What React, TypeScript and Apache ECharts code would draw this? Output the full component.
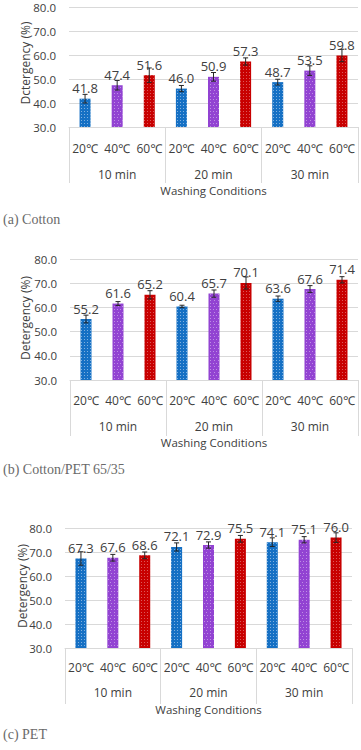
import React, { useEffect, useRef } from "react";
import * as echarts from "echarts";

const temps = ["20℃", "40℃", "60℃", "20℃", "40℃", "60℃", "20℃", "40℃", "60℃"];
const groups = ["10 min", "20 min", "30 min"];

const cottonValues = [41.8, 47.4, 51.6, 46.0, 50.9, 57.3, 48.7, 53.5, 59.8];
const cottonErrors = [1.8, 2.0, 3.0, 1.3, 1.8, 1.5, 1.2, 2.0, 2.6];
const blendValues = [55.2, 61.6, 65.2, 60.4, 65.7, 70.1, 63.6, 67.6, 71.4];
const blendErrors = [1.6, 0.8, 1.7, 0.5, 1.5, 2.5, 1.1, 1.4, 1.3];
const petValues = [67.3, 67.6, 68.6, 72.1, 72.9, 75.5, 74.1, 75.1, 76.0];
const petErrors = [2.8, 1.4, 1.4, 1.7, 1.3, 1.4, 1.8, 1.3, 2.0];

const yMin = 30;
const yMax = 80;
const yInterval = 10;

const captions = ["(a) Cotton", "(b) Cotton/PET 65/35", "(c) PET"];
const yTitles = ["Dctergency (%)", "Detergency (%)", "Detergency (%)"];
const xTitle = "Washing Conditions";

const FONT = "'Open Sans', 'Noto Sans', 'Noto Sans CJK KR', sans-serif";
const barColors = ["#1570c4", "#9243d2", "#c80000"];
const decals = [
  { symbol: "rect", symbolSize: 1, dashArrayX: [1, 2], dashArrayY: [1, 2], color: "rgba(255,255,255,0.45)" },
  { symbol: "rect", symbolSize: 1, dashArrayX: [[1, 2], [0, 1.5, 1, 0.5]], dashArrayY: [1, 1.5], color: "rgba(255,255,255,0.4)" },
  { symbol: "rect", symbolSize: 1, dashArrayX: [1, 1.5], dashArrayY: [1, 1.5], color: "rgba(255,255,255,0.35)" },
];

const layouts = [
  { left: 69, right: 3, top: 7, height: 120, tempMargin: 15, groupMargin: 41, nameGap: 58, yTitleX: 25, yTitleY: 63 },
  { left: 70, right: 3, top: 259, height: 121, tempMargin: 14, groupMargin: 40, nameGap: 57, yTitleX: 25, yTitleY: 318 },
  { left: 65, right: 9, top: 528, height: 120, tempMargin: 13, groupMargin: 38, nameGap: 56, yTitleX: 22, yTitleY: 586 },
];
const captionY = [220, 470, 735];

export default function App() {
  const ref = useRef<HTMLDivElement>(null);
  useEffect(() => {
    if (!ref.current) return;
    const chart = echarts.init(ref.current, null, { renderer: "svg" });
    const datasets = [
      { v: cottonValues, e: cottonErrors },
      { v: blendValues, e: blendErrors },
      { v: petValues, e: petErrors },
    ];
    const grid: any[] = [];
    const xAxis: any[] = [];
    const yAxis: any[] = [];
    const series: any[] = [];
    datasets.forEach((d, i) => {
      const L = layouts[i];
      grid.push({ left: L.left, right: L.right, top: L.top, height: L.height, containLabel: false });
      xAxis.push({
        type: "category",
        gridIndex: i,
        data: temps,
        position: "bottom",
        axisLine: { show: true, lineStyle: { color: "#d9d9d9", width: 1 } },
        axisTick: { show: false },
        axisLabel: { margin: L.tempMargin, fontSize: 12, color: "#404040", fontFamily: FONT, interval: 0 },
      });
      xAxis.push({
        type: "category",
        gridIndex: i,
        data: groups,
        position: "bottom",
        axisLine: { show: false },
        axisTick: { show: true, length: 56, lineStyle: { color: "#d9d9d9", width: 1 } },
        axisLabel: { margin: L.groupMargin, fontSize: 12, color: "#404040", fontFamily: FONT },
        name: xTitle,
        nameLocation: "middle",
        nameGap: L.nameGap,
        nameMoveOverlap: false,
        nameTextStyle: { fontSize: 11.5, color: "#404040", fontFamily: FONT },
      });
      yAxis.push({
        type: "value",
        gridIndex: i,
        min: yMin,
        max: yMax,
        interval: yInterval,
        axisLine: { show: false },
        axisTick: { show: false },
        splitLine: { lineStyle: { color: "#d9d9d9", width: 1 } },
        axisLabel: { fontSize: 11.5, color: "#404040", fontFamily: FONT, margin: 13, formatter: (v: number) => v.toFixed(1) },
      });
      series.push({
        type: "bar",
        xAxisIndex: i * 2,
        yAxisIndex: i,
        barWidth: 11,
        data: d.v.map((v, k) => ({
          value: v,
          itemStyle: { color: barColors[k % 3], decal: decals[k % 3] },
        })),
        label: {
          show: true,
          position: "top",
          distance: 4,
          fontSize: 13,
          color: "#404040",
          fontFamily: FONT,
          formatter: (p: any) => Number(p.value).toFixed(1),
        },
      });
      series.push({
        type: "custom",
        xAxisIndex: i * 2,
        yAxisIndex: i,
        z: 5,
        data: d.v.map((v, k) => [k, v - d.e[k], v + d.e[k]]),
        encode: { x: 0, y: [1, 2] },
        renderItem: (params: any, api: any) => {
          const x = api.value(0);
          const lo = api.coord([x, api.value(1)]);
          const hi = api.coord([x, api.value(2)]);
          const w = 2.5;
          const st = { stroke: "#262626", lineWidth: 1 };
          return {
            type: "group",
            children: [
              { type: "line", shape: { x1: lo[0], y1: lo[1], x2: hi[0], y2: hi[1] }, style: st },
              { type: "line", shape: { x1: lo[0] - w, y1: lo[1], x2: lo[0] + w, y2: lo[1] }, style: st },
              { type: "line", shape: { x1: hi[0] - w, y1: hi[1], x2: hi[0] + w, y2: hi[1] }, style: st },
            ],
          };
        },
      });
    });
    const graphic: any[] = [];
    captions.forEach((c, i) => {
      graphic.push({
        type: "text",
        left: 3,
        top: captionY[i] - 8,
        style: { text: c, fontSize: 14, fill: "#6a6a6a", fontFamily: "'Liberation Serif', 'DejaVu Serif', serif" },
      });
    });
    yTitles.forEach((t, i) => {
      graphic.push({
        type: "text",
        x: layouts[i].yTitleX,
        y: layouts[i].yTitleY,
        rotation: Math.PI / 2,
        style: {
          text: t,
          fontSize: 12,
          fill: "#404040",
          fontFamily: FONT,
          align: "center",
          verticalAlign: "middle",
        },
      });
    });
    chart.setOption({
      animation: false,
      backgroundColor: "#ffffff",
      grid,
      xAxis,
      yAxis,
      series,
      graphic,
    });
    return () => chart.dispose();
  }, []);
  return (
    <div
      ref={ref}
      style={{ position: "absolute", left: 0, top: 0, width: 361, height: 750, background: "#fff" }}
    />
  );
}
